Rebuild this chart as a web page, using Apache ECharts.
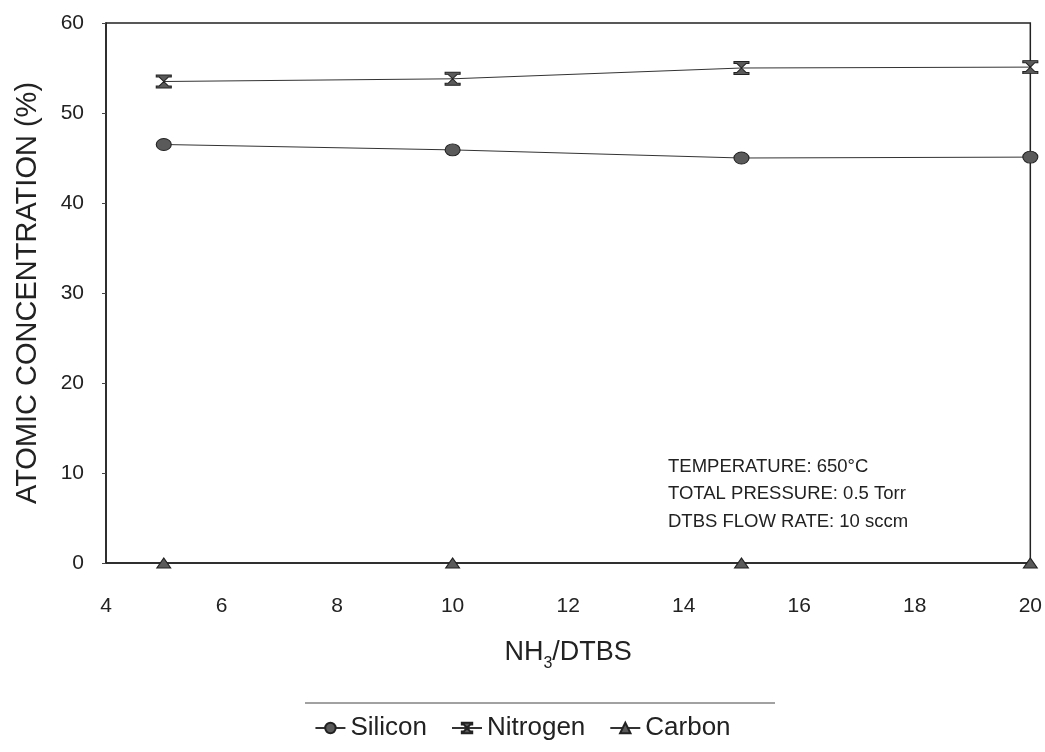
<!DOCTYPE html>
<html>
<head>
<meta charset="utf-8">
<script src="https://cdn.jsdelivr.net/npm/echarts@6/dist/echarts.min.js"></script>
<style>html,body{margin:0;padding:0;background:#fff}#c{width:1045px;height:752px}</style>
</head>
<body>
<div id="c"></div>
<script>
var ratio = [5, 10, 15, 20];
var silicon = [46.5, 45.9, 45.0, 45.1];
var nitrogen = [53.5, 53.8, 55.0, 55.1];
var carbon = [0, 0, 0, 0];
var seriesNames = ['Silicon', 'Nitrogen', 'Carbon'];
var noteLines = ['TEMPERATURE: 650°C', 'TOTAL PRESSURE: 0.5 Torr', 'DTBS FLOW RATE: 10 sccm'];

function pairs(ys){ return ratio.map(function(x,i){ return [x, ys[i]]; }); }

var hourglass = 'path://M0,0H12V1.6H9.6L6,5L9.6,8.4H12V10H0V8.4H2.4L6,5L2.4,1.6H0Z';
var font = '"Liberation Sans", Arial, sans-serif';
var mk = {color:'#5a5a5a', borderColor:'#222', borderWidth:1};
var ln = {color:'#333', width:1};

var chart = echarts.init(document.getElementById('c'));
chart.setOption({
  animation:false,
  backgroundColor:'#fff',
  grid:{left:106, right:12, top:23, bottom:189, show:true, borderColor:'#222', borderWidth:1.5},
  xAxis:{type:'value', min:4, max:20, interval:2,
    name:'{a|NH}{s|3}{a|/DTBS}', nameLocation:'middle', nameGap:76,
    nameTextStyle:{rich:{a:{fontSize:27, fontFamily:font, color:'#222'}, s:{fontSize:16, fontFamily:font, color:'#222', verticalAlign:'bottom', padding:[0,0,-6,0]}}},
    axisLine:{lineStyle:{color:'#222', width:1.5}}, axisTick:{show:false}, splitLine:{show:false},
    axisLabel:{fontSize:21, fontFamily:font, color:'#222', margin:33}},
  yAxis:{type:'value', min:0, max:60, interval:10,
    name:'ATOMIC CONCENTRATION (%)', nameLocation:'middle', nameGap:64,
    nameTextStyle:{fontSize:29, fontFamily:font, color:'#222'},
    axisLine:{show:true, lineStyle:{color:'#222', width:1.5}},
    axisTick:{show:true, length:4, lineStyle:{color:'#444'}}, splitLine:{show:false},
    axisLabel:{fontSize:21, fontFamily:font, color:'#222', margin:22}},
  legend:{bottom:6, left:'center', itemWidth:30, itemHeight:13, itemGap:24,
    textStyle:{fontSize:26, fontFamily:font, color:'#222'}, data:seriesNames},
  graphic:[
    {type:'line', shape:{x1:305, y1:703, x2:775, y2:703}, style:{stroke:'#444', lineWidth:1}},
    {type:'text', left:668, top:453, style:{text:noteLines.join('\n'), fontSize:18.5, lineHeight:27.5, fontFamily:font, fill:'#222'}}
  ],
  series:[
    {name:seriesNames[0], type:'line', data:pairs(silicon), symbol:'circle', symbolSize:[15,12], lineStyle:ln, itemStyle:mk},
    {name:seriesNames[1], type:'line', data:pairs(nitrogen), symbol:hourglass, symbolSize:[15,13], lineStyle:ln, itemStyle:mk},
    {name:seriesNames[2], type:'line', data:pairs(carbon), symbol:'triangle', symbolSize:[14,10], lineStyle:ln, itemStyle:mk}
  ]
});
</script>
</body>
</html>
